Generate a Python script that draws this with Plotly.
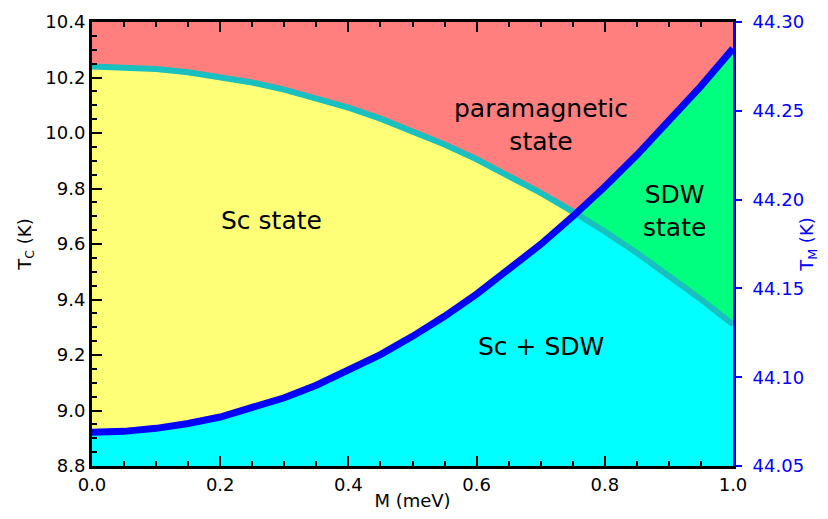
import plotly.graph_objects as go

# Data
M = [0.0, 0.05, 0.1, 0.15, 0.2, 0.25, 0.3, 0.35, 0.4, 0.45, 0.5, 0.55, 0.6, 0.65,
     0.7, 0.75, 0.755, 0.8, 0.85, 0.9, 0.95, 1.0]
Tc = [10.2400, 10.2377, 10.2307, 10.2191, 10.2028, 10.1819, 10.1563, 10.1261, 10.0912,
      10.0517, 10.0075, 9.9587, 9.9052, 9.8471, 9.7843, 9.7169, 9.7099, 9.6448, 9.5681,
      9.4867, 9.4007, 9.3100]
TM = [44.0690, 44.0695, 44.0712, 44.0739, 44.0776, 44.0825, 44.0884, 44.0955, 44.1036,
      44.1127, 44.1230, 44.1343, 44.1468, 44.1603, 44.1748, 44.1905, 44.1921, 44.2072,
      44.2251, 44.2440, 44.2639, 44.2850]
M_cross = 0.755  # where the two curves cross

region_labels = ["paramagnetic<br>state", "Sc state", "SDW<br>state", "Sc + SDW"]
label_M = [0.70, 0.28, 0.908, 0.70]
label_T = [10.03, 9.686, 9.72, 9.229]

i = M.index(M_cross)
M_left, M_right = M[: i + 1], M[i:]
Tc_left, Tc_right = Tc[: i + 1], Tc[i:]
TM_left, TM_right = TM[: i + 1], TM[i:]

RED = "#FF7F7F"
YELLOW = "#FFFF77"
CYAN = "#00FFFF"
GREEN = "#00FF7F"
TEAL = "#1ABFBF"
BLUE = "#0000FF"
FONT = "DejaVu Sans"

fig = go.Figure()
# layer 1 (y): yellow below Tc, left of crossing
fig.add_trace(go.Scatter(x=M_left, y=Tc_left, yaxis="y", fill="tozeroy", fillcolor=YELLOW,
                         mode="lines", line=dict(width=0, color=YELLOW), hoverinfo="skip"))
# layer 2 (y2): cyan below T_M on the left, green below T_M on the right
fig.add_trace(go.Scatter(x=M_left, y=TM_left, yaxis="y2", fill="tozeroy", fillcolor=CYAN,
                         mode="lines", line=dict(width=0, color=CYAN), hoverinfo="skip"))
fig.add_trace(go.Scatter(x=M_right, y=TM_right, yaxis="y2", fill="tozeroy", fillcolor=GREEN,
                         mode="lines", line=dict(width=0, color=GREEN), hoverinfo="skip"))
# layer 3 (y3, same scale as y): cyan below Tc on the right, Tc curve
fig.add_trace(go.Scatter(x=M_right, y=Tc_right, yaxis="y3", fill="tozeroy", fillcolor=CYAN,
                         mode="lines", line=dict(width=0, color=CYAN), hoverinfo="skip"))
fig.add_trace(go.Scatter(x=M, y=Tc, yaxis="y3", mode="lines",
                         line=dict(width=6, color=TEAL), hoverinfo="skip"))
# layer 4 (y4, same scale as y2): T_M curve
fig.add_trace(go.Scatter(x=M, y=TM, yaxis="y4", mode="lines",
                         line=dict(width=7, color=BLUE), hoverinfo="skip"))

for txt, xm, yt in zip(region_labels, label_M, label_T):
    fig.add_annotation(x=xm, y=yt, xref="x", yref="y", text=txt, showarrow=False,
                       font=dict(family=FONT, size=25, color="black"))

yrange = [8.8, 10.4]
y2range = [44.05, 44.30]

fig.update_layout(
    width=812, height=503,
    margin=dict(l=84, r=87, t=14, b=45, autoexpand=False),
    paper_bgcolor="white",
    plot_bgcolor=RED,
    showlegend=False,
    font=dict(family=FONT, size=18, color="black"),
    xaxis=dict(range=[0, 1], dtick=0.2, tickformat=".1f", showgrid=False, zeroline=False,
               automargin=False,
               showline=True, linecolor="black", linewidth=3, mirror="ticks",
               ticks="inside", ticklen=10, tickwidth=2, tickcolor="black",
               minor=dict(dtick=0.05, ticks="inside", ticklen=5, tickwidth=2, tickcolor="black"),
               title=dict(text="M (meV)", font=dict(size=18), standoff=2)),
    yaxis=dict(range=yrange, dtick=0.2, tickformat=".1f", showgrid=False, zeroline=False,
               automargin=False,
               showline=True, linecolor="black", linewidth=3,
               ticks="inside", ticklen=10, tickwidth=2, tickcolor="black",
               minor=dict(dtick=0.05, ticks="inside", ticklen=5, tickwidth=2, tickcolor="black"),
               title=dict(text="T<sub>C</sub> (K)", font=dict(size=18), standoff=10)),
    yaxis2=dict(range=y2range, dtick=0.05, tickformat=".2f", overlaying="y", side="right",
                automargin=False, ticklabelstandoff=7,
                showgrid=False, zeroline=False, showline=True, linecolor=BLUE, linewidth=3,
                ticks="outside", ticklen=6, tickwidth=2, tickcolor=BLUE,
                tickfont=dict(color=BLUE, size=18),
                title=dict(text="T<sub>M</sub> (K)", font=dict(color=BLUE, size=18), standoff=12)),
    yaxis3=dict(range=yrange, overlaying="y", visible=False, showgrid=False, zeroline=False,
                automargin=False),
    yaxis4=dict(range=y2range, overlaying="y", visible=False, showgrid=False, zeroline=False,
                automargin=False),
)

fig.write_html("out.html")
